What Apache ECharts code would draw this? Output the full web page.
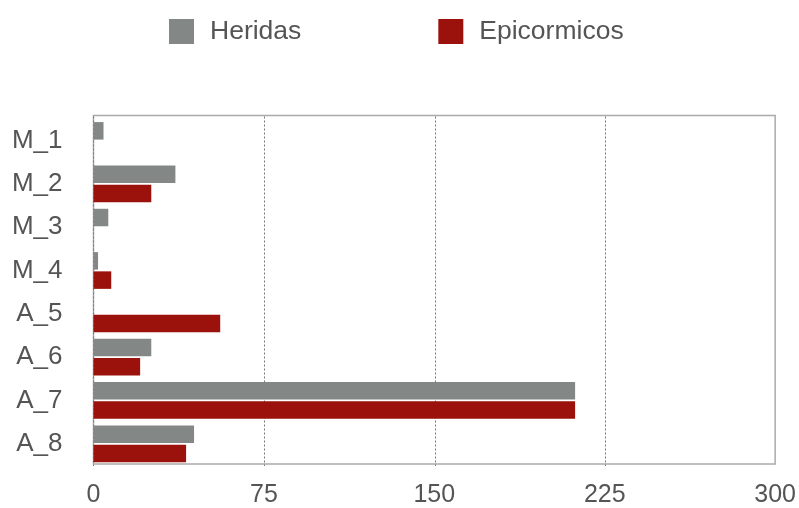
<!DOCTYPE html>
<html><head><meta charset="utf-8">
<script src="https://cdn.jsdelivr.net/npm/echarts@6/dist/echarts.min.js"></script>
<style>html,body{margin:0;padding:0;background:#fff}#c{width:799px;height:508px}</style>
</head><body><div id="c"></div>
<script>
const categories = ["M_1","M_2","M_3","M_4","A_5","A_6","A_7","A_8"];
const heridas = [4.4, 36, 6.5, 2, 0, 25.4, 211.7, 44.2];
const epicormicos = [0, 25.4, 0, 7.8, 55.7, 20.5, 211.7, 40.7];
const xTicks = [0, 75, 150, 225, 300];

const font = "'Liberation Sans', Arial, Helvetica, sans-serif";
const xMin = xTicks[0], xMax = xTicks[xTicks.length - 1];
const gridLeft = 93.5, gridRight = 23;
const plotW = 799 - gridLeft - gridRight;
// dotted guide lines only for inner ticks (stop before the solid right border)
const innerMax = xTicks[xTicks.length - 2];
const innerRight = gridRight + plotW * (xMax - innerMax) / (xMax - xMin);

const chart = echarts.init(document.getElementById('c'));
chart.setOption({
  animation: false,
  backgroundColor: '#fff',
  legend: {
    left: 164, top: 13,
    itemWidth: 25, itemHeight: 25, itemGap: 137,
    icon: 'rect',
    textStyle: { fontFamily: font, fontSize: 26.5, color: '#555', padding: [0,0,0,11] },
    data: ['Heridas', 'Epicormicos']
  },
  grid: [
    { left: gridLeft, right: gridRight, top: 115.5, bottom: 38,
      show: true, borderColor: '#aaa', borderWidth: 1.5, containLabel: false },
    { left: gridLeft, right: gridRight, top: 118.8, bottom: 42.5, containLabel: false },
    { left: gridLeft, right: innerRight, top: 116.5, bottom: 42, containLabel: false }
  ],
  xAxis: [
    { gridIndex: 0, type: 'value', min: xMin, max: xMax, interval: 75,
      axisLine: { show: false }, axisTick: { show: false },
      axisLabel: { fontFamily: font, fontSize: 25, color: '#555', margin: 19,
        formatter: v => xTicks.includes(v) ? String(v) : '' },
      splitLine: { show: false } },
    { gridIndex: 1, type: 'value', min: xMin, max: xMax, interval: 75, show: false },
    { gridIndex: 2, type: 'value', min: xMin, max: innerMax, interval: 75,
      axisLine: { show: false }, axisTick: { show: false }, axisLabel: { show: false },
      splitLine: { show: true, lineStyle: { color: '#777', type: [2, 2], width: 1 } } }
  ],
  yAxis: [
    { gridIndex: 0, type: 'category', data: categories, inverse: true, show: false },
    { gridIndex: 1, type: 'category', data: categories, inverse: true,
      axisLine: { show: false }, axisTick: { show: false },
      axisLabel: { fontFamily: font, fontSize: 26, color: '#555', margin: 31 },
      splitLine: { show: false } },
    { gridIndex: 2, type: 'category', data: categories, inverse: true, show: false }
  ],
  series: [
    { name: 'Heridas', type: 'bar', xAxisIndex: 1, yAxisIndex: 1, data: heridas,
      barWidth: 17.5, barGap: '10%', itemStyle: { color: '#838886' } },
    { name: 'Epicormicos', type: 'bar', xAxisIndex: 1, yAxisIndex: 1, data: epicormicos,
      barWidth: 17.5, barGap: '10%', itemStyle: { color: '#9a120b' } }
  ]
});
</script></body></html>
